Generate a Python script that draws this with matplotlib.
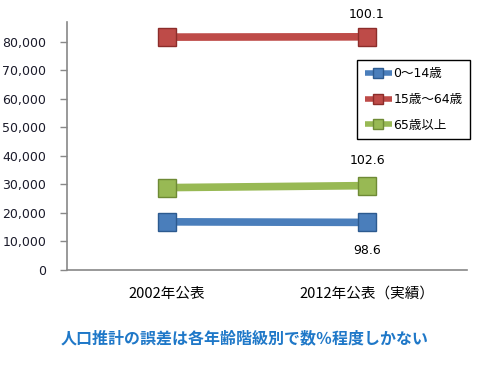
import matplotlib
matplotlib.use("Agg")
import matplotlib.pyplot as plt

categories = ["2002年公表", "2012年公表（実績）"]
series_names = ["0～14歳", "15歳～64歳", "65歳以上"]
values_0_14 = [16900, 16700]
values_15_64 = [81700, 81800]
values_65 = [28900, 29600]
ratio_labels = ["98.6", "100.1", "102.6"]
yticks = [0, 10000, 20000, 30000, 40000, 50000, 60000, 70000, 80000]
title = "人口推計の誤差は各年齢階級別で数％程度しかない"

colors = ["#4A7EBB", "#BE4B48", "#98B954"]
edges = ["#2C5A8F", "#8C2D2A", "#6E8A35"]

fig = plt.figure(figsize=(4.85, 3.67), dpi=100)
ax = fig.add_axes([67/485, 1-270/367, 400/485, 248/367])

x = list(range(len(categories)))
all_vals = [values_0_14, values_15_64, values_65]
lines = []
for vals, c, e, name in zip(all_vals, colors, edges, series_names):
    ln, = ax.plot(x, vals, color=c, lw=5.5, marker='s', markersize=13,
                  markerfacecolor=c, markeredgecolor=e, markeredgewidth=1.0,
                  label=name, solid_capstyle='butt', zorder=3)
    lines.append(ln)

offsets = [(0, -20), (0, 16), (0, 18)]
for vals, lab, off in zip(all_vals, ratio_labels, offsets):
    ax.annotate(lab, (x[-1], vals[-1]), xytext=off, textcoords='offset points',
                ha='center', va='center', fontsize=9, color='black',
                family=['DejaVu Sans'])

ax.set_xlim(-0.5, 1.5)
ax.set_ylim(0, 87000)
ax.set_yticks(yticks)
ax.set_yticklabels([f"{v:,}" for v in yticks], fontsize=9, color='#1a1a2a',
                   family=['DejaVu Sans'])
ax.set_xticks(x)
ax.set_xticklabels(categories, fontsize=10.5, family=['Noto Sans CJK JP'])
ax.tick_params(axis='x', length=0, pad=12)
ax.tick_params(axis='y', length=5, color='#888888', width=1, pad=10)
for s in ['top', 'right']:
    ax.spines[s].set_visible(False)
for s in ['left', 'bottom']:
    ax.spines[s].set_color('#888888')
    ax.spines[s].set_linewidth(1.2)

leg = ax.legend(handles=lines, loc='upper left',
                bbox_to_anchor=(357/485, 1-60/367), bbox_transform=fig.transFigure,
                prop={'family': ['DejaVu Sans', 'Noto Sans CJK JP'], 'size': 9},
                frameon=True, fancybox=False, edgecolor='black', framealpha=1,
                handlelength=2.2, handletextpad=0.1, labelspacing=1.0,
                borderpad=0.6, borderaxespad=0, markerscale=0.55)
leg.get_frame().set_linewidth(1.0)
for h in leg.get_lines():
    h.set_linewidth(4)

fig.text(0.504, 1-338/367, title, ha='center', va='center', fontsize=11.5,
         fontweight='bold', color='#1F78C8', family=['Noto Sans CJK JP'])

fig.savefig("out.png", dpi=100)
